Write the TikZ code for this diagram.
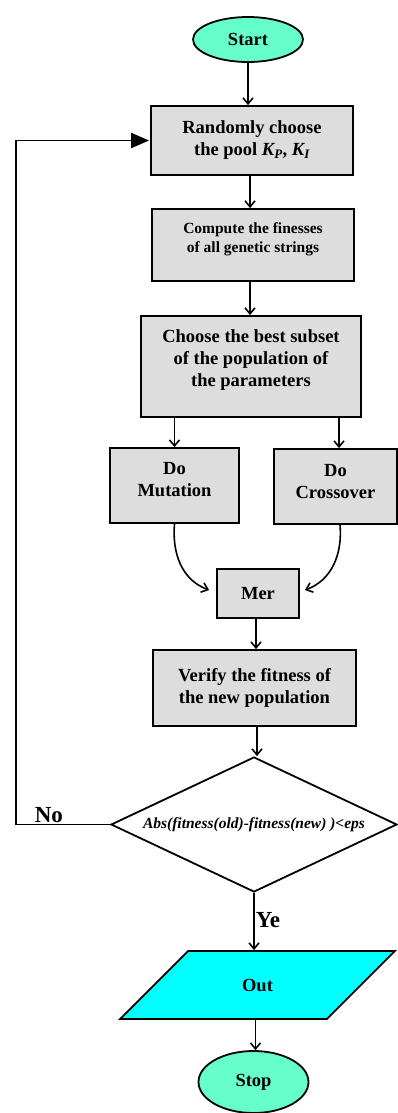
\documentclass[tikz,border=0pt]{standalone}
\usepackage{fontspec}
\setmainfont{Liberation Serif}
\usetikzlibrary{shapes.geometric,arrows.meta,calc}
\definecolor{termfill}{HTML}{66FFCC}
\definecolor{boxfill}{HTML}{DDDDDD}
\definecolor{iofill}{HTML}{00FFFF}
\begin{document}
\begin{tikzpicture}[x=1pt,y=-1pt,
  base/.style={draw=black, line width=1.8pt, inner sep=0pt, align=center, font=\bfseries\fontsize{18.5}{22}\selectfont},
  proc/.style={base, rectangle, fill=boxfill},
  term/.style={base, ellipse, fill=termfill},
  io/.style={base, trapezium, trapezium left angle=45, trapezium right angle=135, fill=iofill},
  decision/.style={base, diamond, aspect=2.12, fill=white, font=\bfseries\itshape\fontsize{15.5}{18}\selectfont},
  conn/.style={line width=1.6pt, -{Straight Barb[length=6pt,width=10pt,line width=1.6pt]}},
  back/.style={line width=1.8pt, -{Triangle[length=18pt,width=15pt]}},
  lbl/.style={font=\bfseries\fontsize{23}{26}\selectfont, inner sep=1pt}
]
\useasboundingbox (0,0) rectangle (398,1113);

\node[term, minimum width=110pt, minimum height=45pt] (start) at (248,39.5) {Start};
\node[proc, minimum width=202pt, minimum height=69pt] (b1) at (252,140.5)
  {Randomly choose\\the pool \textit{K\textsubscript{P}}, \textit{K\textsubscript{I}}};
\node[proc, minimum width=202pt, minimum height=72pt, text depth=15pt,
  font=\bfseries\fontsize{15.5}{19}\selectfont] (b2) at (253,245)
  {Compute the finesses\\of all genetic strings};
\node[proc, minimum width=220pt, minimum height=101pt, text depth=16pt] (b3) at (251,366.5)
  {Choose the best subset\\of the population of\\the parameters};
\node[proc, minimum width=129pt, minimum height=75pt, text depth=12pt] (b4) at (174.5,485.5)
  {Do\\Mutation};
\node[proc, minimum width=123pt, minimum height=75pt, text depth=10pt] (b5) at (335.5,486.5)
  {Do\\Crossover};
\node[proc, minimum width=82pt, minimum height=49pt] (mer) at (258,593.5) {Mer};
\node[proc, minimum width=203pt, minimum height=76pt] (b6) at (254.5,688)
  {Verify the fitness of\\the new population};
\node[decision, minimum width=286pt, minimum height=135pt] (dec) at (254,824.5)
  {Abs(fitness(old)-fitness(new) )<eps};
\node[io, text height=13pt, text depth=0pt, inner xsep=54pt, inner ysep=27.5pt] (out) at (257.5,985) {Out};
\node[term, minimum width=110pt, minimum height=62pt] (stop) at (253.5,1082) {Stop};

\coordinate (fb) at (16,824.5);

\draw[conn] (start.south) -- (start.south |- b1.north);
\draw[conn] ([xshift=-2pt]b1.south) -- ([xshift=-2pt]b1.south |- b2.north);
\draw[conn] ([xshift=-3pt]b2.south) -- ([xshift=-3pt]b2.south |- b3.north);
\draw[conn] (b4.north |- b3.south) -- (b4.north);
\draw[conn] ([xshift=3.5pt]b5.north |- b3.south) -- ([xshift=3.5pt]b5.north);
\draw[conn] (b4.south) to[out=-95, in=160] ([xshift=-7pt,yshift=3.5pt]mer.west);
\draw[conn] ([xshift=4.5pt]b5.south) to[out=-85, in=20] ([xshift=5pt,yshift=3.5pt]mer.east);
\draw[conn] ([xshift=-2pt]mer.south) -- ([xshift=-2pt]mer.south |- b6.north);
\draw[conn] ([xshift=2.5pt]b6.south) -- ([xshift=2.5pt]b6.south |- dec.north);
\draw[conn] (dec.south) -- node[lbl, right, pos=0.48] {Ye} (dec.south |- out.north);
\draw[conn] ([xshift=-2pt]out.south) -- ([xshift=-2pt]out.south |- stop.north);
\draw[back] (dec.west) -- node[lbl, above, pos=0.65] {No} (fb) |- ([xshift=-1pt]b1.west);
\end{tikzpicture}
\end{document}
